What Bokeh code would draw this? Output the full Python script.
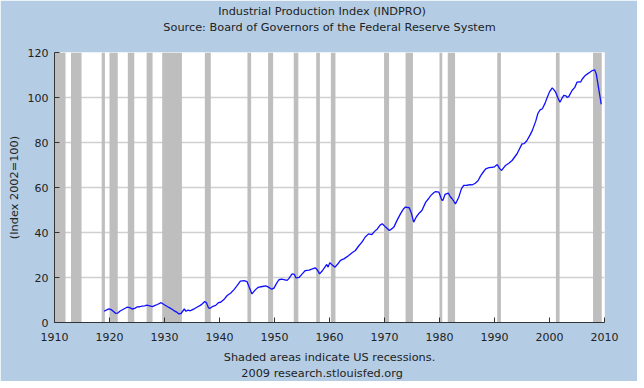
from bokeh.plotting import figure
from bokeh.models import Range1d, FixedTicker, LinearAxis, Title
from bokeh.embed import file_html
from bokeh.resources import INLINE

# ---- data ----
years = [
    1919.0, 1919.5, 1919.9, 1920.4, 1921.1, 1921.5, 1922.0, 1922.6, 1923.2, 1923.7,
    1924.1, 1924.6, 1925.0, 1925.5, 1925.9, 1926.4, 1926.8, 1927.3, 1927.8, 1928.3,
    1928.7, 1929.4, 1929.9, 1930.5, 1931.1, 1931.7, 1932.3, 1932.6, 1933.0, 1933.3,
    1933.6, 1933.9, 1934.3, 1934.7, 1935.0, 1935.5, 1935.9, 1936.5, 1936.9, 1937.3,
    1937.6, 1938.0, 1938.3, 1938.8, 1939.3, 1939.8, 1940.2, 1940.8, 1941.4, 1942.0,
    1942.6, 1943.2, 1943.8, 1944.5, 1945.0, 1945.4, 1945.9, 1946.5, 1947.0, 1947.8,
    1948.4, 1948.9, 1949.5, 1949.9, 1950.4, 1950.8, 1951.3, 1951.7, 1952.3, 1952.6,
    1953.2, 1953.6, 1953.9, 1954.5, 1955.0, 1955.6, 1956.3, 1956.9, 1957.4, 1957.8,
    1958.2, 1958.7, 1959.0, 1959.5, 1959.75, 1960.05, 1960.4, 1961.0, 1961.5, 1962.0,
    1962.7, 1963.5, 1964.1, 1964.7, 1965.3, 1965.9, 1966.5, 1967.1, 1967.7, 1968.2,
    1968.7, 1969.2, 1969.6, 1970.2, 1970.9, 1971.3, 1971.7, 1972.3, 1972.9, 1973.4,
    1973.8, 1974.5, 1974.9, 1975.3, 1975.8, 1976.2, 1976.8, 1977.5, 1978.0, 1978.4,
    1979.0, 1979.3, 1979.9, 1980.4, 1980.6, 1981.0, 1981.6, 1982.0, 1982.3, 1982.9,
    1983.5, 1984.0, 1984.4, 1985.0, 1985.6, 1986.0, 1986.5, 1987.0, 1987.5, 1988.0,
    1988.4, 1989.0, 1989.6, 1990.0, 1990.5, 1990.9, 1991.3, 1992.0, 1992.6, 1993.2,
    1994.1, 1995.0, 1995.4, 1995.9, 1996.5, 1996.9, 1997.5, 1997.9, 1998.3, 1998.7,
    1999.2, 1999.6, 2000.0, 2000.5, 2000.8, 2001.1, 2001.5, 2001.9, 2002.3, 2002.6,
    2003.0, 2003.2, 2003.5, 2004.1, 2004.6, 2005.0, 2005.7, 2005.9, 2006.5, 2006.9,
    2007.4, 2007.8, 2008.2, 2008.5, 2008.7, 2008.9, 2009.1, 2009.4,
]
index_values = [
    5.0, 5.6, 6.1, 5.6, 4.1, 4.2, 5.2, 6.0, 6.8, 6.6,
    6.0, 6.3, 6.9, 7.0, 7.3, 7.4, 7.7, 7.4, 7.1, 7.6,
    8.0, 8.8, 8.0, 7.1, 6.3, 5.3, 4.5, 3.8, 4.0, 5.0,
    6.0, 5.0, 5.5, 5.2, 5.6, 6.2, 6.8, 7.6, 8.3, 9.3,
    8.9, 6.5, 6.3, 7.2, 7.6, 8.8, 9.0, 10.2, 12.0, 13.0,
    14.5, 16.4, 18.4, 18.6, 18.2, 15.7, 12.7, 14.5, 15.6, 16.0,
    16.3, 15.7, 14.8, 15.3, 17.5, 19.0, 19.3, 19.1, 18.7, 19.5,
    21.6, 21.4, 19.8, 20.1, 21.5, 23.1, 23.3, 23.8, 24.3, 23.3,
    21.6, 23.0, 24.1, 25.8, 24.6, 26.6, 25.8, 24.6, 26.0, 27.6,
    28.4, 29.8, 31.0, 32.0, 34.0, 35.7, 38.0, 39.4, 39.1, 40.5,
    41.6, 43.3, 43.9, 42.4, 40.9, 41.6, 42.4, 45.5, 48.3, 50.3,
    51.3, 51.0, 48.5, 44.6, 47.0, 48.3, 49.8, 53.5, 55.0, 56.4,
    57.8, 58.2, 57.9, 54.5, 54.2, 56.9, 57.5, 55.8, 55.0, 52.7,
    55.7, 59.5, 60.9, 61.0, 61.3, 61.2, 61.9, 63.0, 65.3, 67.0,
    68.3, 68.8, 69.0, 69.2, 70.2, 68.5, 67.6, 69.8, 70.8, 72.0,
    75.0, 79.4, 79.5, 80.9, 83.5, 85.5, 89.5, 93.0, 94.5, 95.0,
    97.5, 100.1, 102.5, 104.3, 103.5, 102.4, 100.0, 97.9, 99.8, 100.9,
    100.7, 100.0, 100.4, 103.1, 104.5, 106.8, 107.0, 108.0, 109.8, 110.5,
    111.3, 112.0, 112.3, 110.5, 107.6, 104.5, 101.6, 97.0,
]

# US recessions (NBER peak -> trough, fractional years)
rec_start = [1910.0, 1913.0, 1918.583, 1920.0, 1923.333, 1926.75, 1929.583, 1937.333,
             1945.083, 1948.833, 1953.5, 1957.583, 1960.25, 1969.917, 1973.833,
             1980.0, 1981.5, 1990.5, 2001.167, 2007.917]
rec_end = [1912.0, 1914.917, 1919.167, 1921.5, 1924.5, 1927.833, 1933.167, 1938.417,
           1945.75, 1949.75, 1954.333, 1958.25, 1961.083, 1970.833, 1975.167,
           1980.5, 1982.833, 1991.167, 2001.833, 2009.5]

x_ticks = [1910, 1920, 1930, 1940, 1950, 1960, 1970, 1980, 1990, 2000, 2010]
y_ticks = [0, 20, 40, 60, 80, 100, 120]

title_lines = ["Industrial Production Index (INDPRO)",
               "Source: Board of Governors of the Federal Reserve System"]
footer_lines = ["Shaded areas indicate US recessions.",
                "2009 research.stlouisfed.org"]

FONT = "DejaVu Sans"
TXT = "#222222"
BLUE_BG = "#b4cde4"
TFS = "11.3px"

p = figure(width=637, height=381, output_backend="svg", toolbar_location=None,
           x_range=Range1d(x_ticks[0], x_ticks[-1]),
           y_range=Range1d(y_ticks[0], y_ticks[-1]),
           min_border_left=54, min_border_right=33,
           min_border_top=52, min_border_bottom=59)
p.background_fill_color = "white"
p.border_fill_color = BLUE_BG
p.outline_line_color = None

# recession shading
p.quad(left=rec_start, right=rec_end, bottom=y_ticks[0], top=y_ticks[-1],
       fill_color="#bebebe", line_color=None)

# the series
p.line(years, index_values, line_color="#1010ff", line_width=1.3)

# grid
p.xgrid.grid_line_color = None
p.ygrid.grid_line_color = "#d0d0d0"
p.ygrid.grid_line_width = 1.5

# axes
for ax in (p.xaxis[0], p.yaxis[0]):
    ax.axis_line_color = "#333333"
    ax.major_tick_line_color = "#333333"
    ax.major_tick_in = 5
    ax.major_tick_out = 0
    ax.minor_tick_line_color = None
    ax.major_label_text_font = FONT
    ax.major_label_text_font_size = "11px"
    ax.major_label_text_color = TXT
    ax.axis_label_text_font = FONT
    ax.axis_label_text_font_size = TFS
    ax.axis_label_text_font_style = "normal"
    ax.axis_label_text_color = TXT

p.xaxis.ticker = FixedTicker(ticks=x_ticks)
p.yaxis.ticker = FixedTicker(ticks=y_ticks)
p.yaxis.major_label_standoff = 6
p.yaxis.axis_label = "(Index 2002=100)"
p.yaxis.axis_label_standoff = 4
p.xaxis.major_label_standoff = 10
p.xaxis.axis_label = footer_lines[0]
p.xaxis.axis_label_standoff = 7

# second heading line carried by an undecorated top axis
top_axis = LinearAxis(ticker=FixedTicker(ticks=[]), axis_line_color=None,
                      major_tick_line_color=None, minor_tick_line_color=None,
                      major_tick_in=0, major_tick_out=0, major_label_standoff=0,
                      axis_label=title_lines[1], axis_label_standoff=19,
                      axis_label_text_font=FONT, axis_label_text_font_size=TFS,
                      axis_label_text_font_style="normal", axis_label_text_color=TXT)
p.add_layout(top_axis, "above")

p.add_layout(Title(text=title_lines[0], align="left", offset=163.7,
                   vertical_align="bottom", standoff=0, text_font=FONT,
                   text_font_size=TFS, text_font_style="normal",
                   text_color=TXT), "above")
p.add_layout(Title(text=footer_lines[1], align="left", offset=186.8,
                   vertical_align="top", standoff=0, text_font=FONT,
                   text_font_size=TFS, text_font_style="normal",
                   text_color=TXT), "below")

open("out.html", "w").write(file_html(p, INLINE))
